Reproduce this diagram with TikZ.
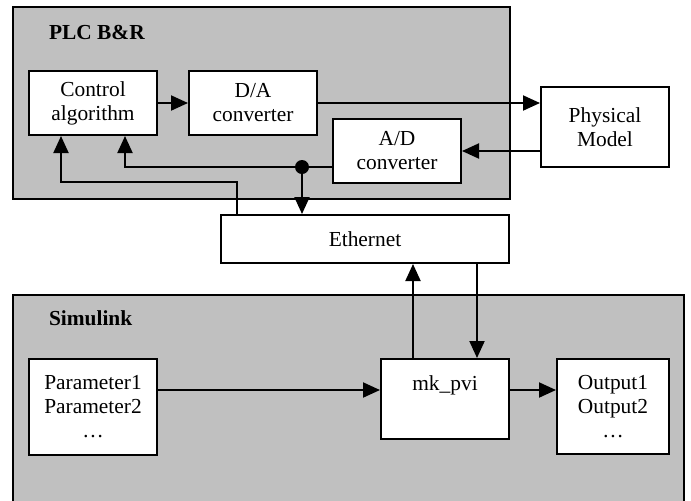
\documentclass[tikz,border=0pt]{standalone}
\usepackage{fontspec}
\setmainfont{Liberation Serif}
\usetikzlibrary{arrows.meta,calc}

\begin{document}
\begin{tikzpicture}[x=0.5pt, y=-0.5pt, line width=1pt,
  font=\fontsize{10.7}{12}\selectfont,
  blk/.style={draw, fill=white, align=center, inner sep=0pt},
  grp/.style={draw, fill=panel},
  title/.style={anchor=west, inner sep=0pt, font=\fontsize{10.7}{12}\selectfont\bfseries},
  arr/.style={-{Triangle[length=8.5pt,width=7.5pt]}}]
\definecolor{panel}{HTML}{C0C0C0}
\useasboundingbox (0,0) rectangle (691,500);

\draw [grp] (13,7) rectangle (510,199);
\draw [grp] (13,295) rectangle (684,510);
\node [title] (plc) at (48,32) {PLC B\&R};
\node [title] (sim) at (48,318) {Simulink};

\node [blk, minimum width=64pt, minimum height=32pt] (ctrl) at (93,103) {Control\\algorithm};
\node [blk, minimum width=64pt, minimum height=32pt] (da) at (253,103) {D/A\\converter};
\node [blk, minimum width=64pt, minimum height=32pt] (ad) at (397,151) {A/D\\converter};
\node [blk, minimum width=64pt, minimum height=40pt] (phys) at (605,127) {Physical\\Model};
\node [blk, minimum width=144pt, minimum height=24pt] (eth) at (365,239) {Ethernet};
\node [blk, minimum width=64pt, minimum height=48pt] (param) at (93,407) {Parameter1\\Parameter2\\…};
\node [blk, minimum width=64pt, minimum height=40pt,
  label={[anchor=north, yshift=-5pt]north:mk\_pvi}] (pvi) at (445,399) {};
\node [blk, minimum width=56pt, minimum height=47.5pt] (out) at (613,406.5) {Output1\\Output2\\…};

\coordinate (adout) at ($(ad.west)+(0,16)$);
\coordinate (tap) at (302,167);
\coordinate (ethup) at ($(eth.north)+(-128,0)$);
\coordinate (pviup) at ($(pvi.north)+(-32,0)$);
\coordinate (pvidown) at ($(pvi.north)+(32,0)$);
\coordinate (parout) at ($(param.north east)+(0,32)$);
\coordinate (pviout) at ($(pvi.north east)+(0,32)$);

\draw [arr] (ctrl.east) -- (da.east -| da.west);
\draw [arr] (da.east) -- (da.east -| phys.west);
\draw [arr] (ad.east -| phys.west) -- (ad.east);
\draw [arr] (adout) -| ($(ctrl.south)+(32,0)$);
\fill (tap) circle (3.5pt);
\draw [arr] (tap) -- (tap |- eth.north);
\draw [arr] (ethup) -- ++(0,-32) -| ($(ctrl.south)+(-32,0)$);
\draw [arr] (pviup) -- (pviup |- eth.south);
\draw [arr] (pvidown |- eth.south) -- (pvidown);
\draw [arr] (parout) -- (parout -| pvi.west);
\draw [arr] (pviout) -- (pviout -| out.west);
\end{tikzpicture}
\end{document}
